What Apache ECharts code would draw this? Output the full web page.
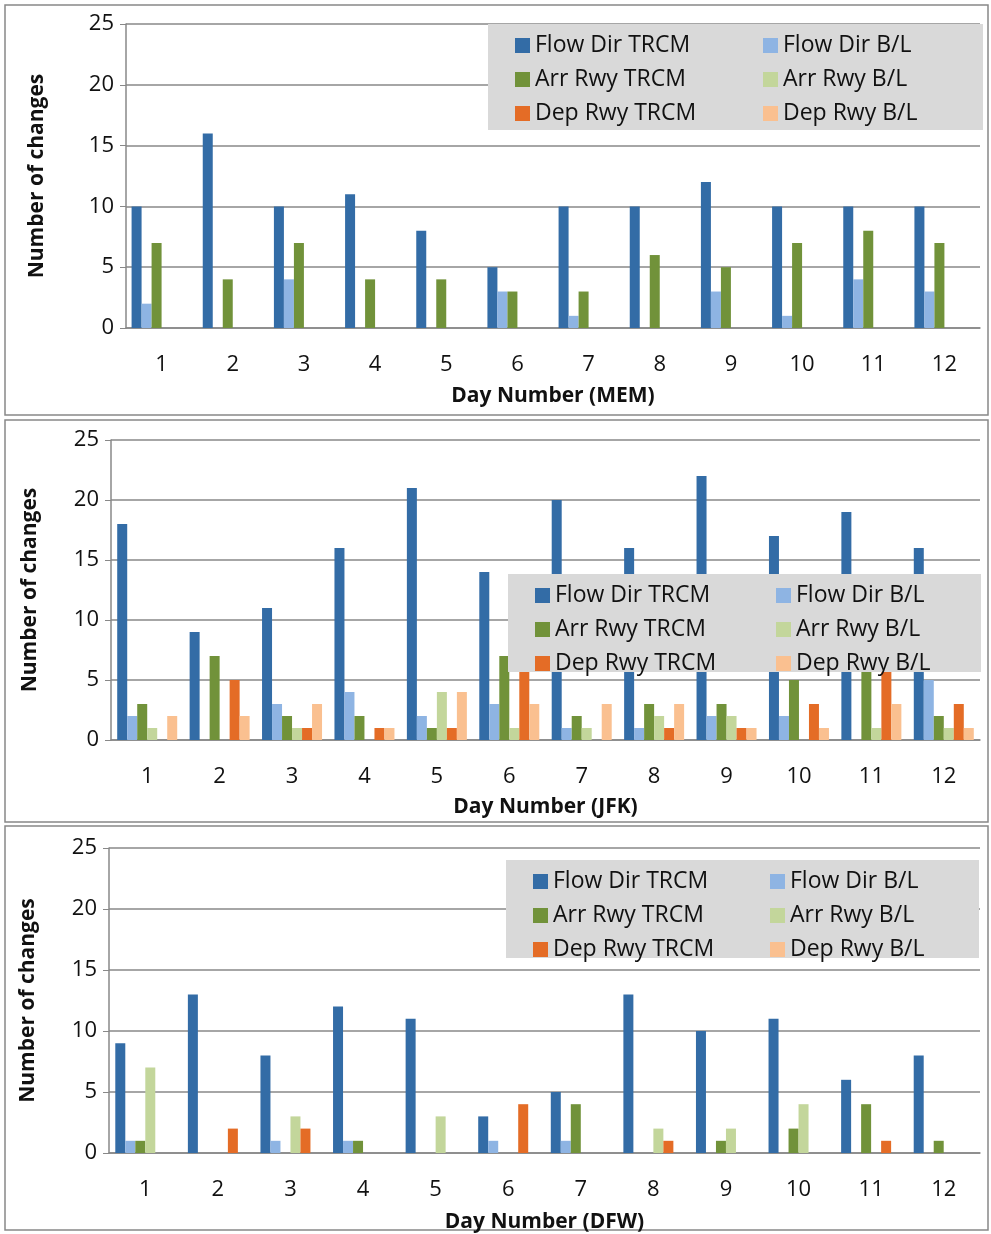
<!DOCTYPE html>
<html><head><meta charset="utf-8">
<script src="https://cdn.jsdelivr.net/npm/echarts@6/dist/echarts.min.js"></script>
<style>html,body{margin:0;padding:0;background:#fff}#c{width:991px;height:1234px}</style>
</head><body><div id="c"></div>
<script>
var days = ['1','2','3','4','5','6','7','8','9','10','11','12'];
var names = ['Flow Dir TRCM','Flow Dir B/L','Arr Rwy TRCM','Arr Rwy B/L','Dep Rwy TRCM','Dep Rwy B/L'];
var colors = ['#336ca6','#8eb4e3','#71923a','#c3d69b','#e46c26','#fac090'];
var yTicks = [0, 5, 10, 15, 20, 25];

// MEM
var memFlowT = [10,16,10,11,8,5,10,10,12,10,10,10];
var memFlowB = [2,0,4,0,0,3,1,0,3,1,4,3];
var memArrT  = [7,4,7,4,4,3,3,6,5,7,8,7];
var memArrB  = [0,0,0,0,0,0,0,0,0,0,0,0];
var memDepT  = [0,0,0,0,0,0,0,0,0,0,0,0];
var memDepB  = [0,0,0,0,0,0,0,0,0,0,0,0];
// JFK
var jfkFlowT = [18,9,11,16,21,14,20,16,22,17,19,16];
var jfkFlowB = [2,0,3,4,2,3,1,1,2,2,0,5];
var jfkArrT  = [3,7,2,2,1,7,2,3,3,5,7,2];
var jfkArrB  = [1,0,1,0,4,1,1,2,2,0,1,1];
var jfkDepT  = [0,5,1,1,1,6,0,1,1,3,6,3];
var jfkDepB  = [2,2,3,1,4,3,3,3,1,1,3,1];
// DFW
var dfwFlowT = [9,13,8,12,11,3,5,13,10,11,6,8];
var dfwFlowB = [1,0,1,1,0,1,1,0,0,0,0,0];
var dfwArrT  = [1,0,0,1,0,0,4,0,1,2,4,1];
var dfwArrB  = [7,0,3,0,3,0,0,2,2,4,0,0];
var dfwDepT  = [0,2,2,0,0,4,0,1,0,0,1,0];
var dfwDepB  = [0,0,0,0,0,0,0,0,0,0,0,0];

var panels = [
  {label:'Day Number (MEM)', data:[memFlowT,memFlowB,memArrT,memArrB,memDepT,memDepB],
   box:[5,5,983,410], grid:{left:126,right:11,top:24,height:304}, legend:[488,24,495,106], col2:248, yGap:78, xGap:58},
  {label:'Day Number (JFK)', data:[jfkFlowT,jfkFlowB,jfkArrT,jfkArrB,jfkDepT,jfkDepB],
   box:[5,420,983,402], grid:{left:111,right:11,top:440,height:300}, legend:[508,574,473,98], col2:241, yGap:70, xGap:57},
  {label:'Day Number (DFW)', data:[dfwFlowT,dfwFlowB,dfwArrT,dfwArrB,dfwDepT,dfwDepB],
   box:[5,826,983,404], grid:{left:109,right:11,top:848,height:305}, legend:[506,860,473,98], col2:237, yGap:70, xGap:59}
];

var font = 'Open Sans, Liberation Sans, sans-serif';
var grids=[], xAxes=[], yAxes=[], series=[], legends=[], graphics=[];
panels.forEach(function(p, i){
  grids.push(Object.assign({outerBoundsMode:'none', containLabel:false}, p.grid));
  graphics.push({type:'rect', shape:{x:p.box[0],y:p.box[1],width:p.box[2],height:p.box[3]},
    style:{fill:'none', stroke:'#888', lineWidth:1.5}, z:-1});
  graphics.push({type:'rect', shape:{x:p.legend[0],y:p.legend[1],width:p.legend[2],height:p.legend[3]},
    style:{fill:'#d9d9d9'}, z:10});
  xAxes.push({type:'category', gridIndex:i, data:days, name:p.label, nameLocation:'middle', nameGap:p.xGap,
    nameTextStyle:{fontFamily:font, fontWeight:'bold', fontSize:21, color:'#111'},
    axisLine:{lineStyle:{color:'#888', width:1.5}}, axisTick:{length:8, lineStyle:{color:'#888'}},
    axisLabel:{fontFamily:font, fontSize:22, color:'#111', margin:26}});
  yAxes.push({type:'value', gridIndex:i, min:yTicks[0], max:yTicks[yTicks.length-1], interval:5,
    name:'Number of changes', nameLocation:'middle', nameGap:p.yGap,
    nameTextStyle:{fontFamily:font, fontWeight:'bold', fontSize:21, color:'#111'},
    axisLine:{show:true, lineStyle:{color:'#888', width:1.5}}, axisTick:{show:true, length:6, lineStyle:{color:'#888'}},
    splitLine:{lineStyle:{color:'#888', width:1.5}},
    axisLabel:{fontFamily:font, fontSize:22, color:'#111', margin:12}});
  [[names[0],names[2],names[4]],[names[1],names[3],names[5]]].forEach(function(col, c){
    legends.push({data:col, orient:'vertical', left:p.legend[0]+22+c*p.col2, top:p.legend[1]+5,
      itemWidth:15, itemHeight:15, itemGap:11, icon:'rect', z:20,
      textStyle:{fontFamily:font, fontSize:23, color:'#111'}, selectedMode:false});
  });
  p.data.forEach(function(d, k){
    series.push({type:'bar', name:names[k], xAxisIndex:i, yAxisIndex:i, data:d,
      barWidth:10, barGap:'0%', itemStyle:{color:colors[k]}, z:2});
  });
});

var chart = echarts.init(document.getElementById('c'));
chart.setOption({
  animation:false,
  grid:grids, xAxis:xAxes, yAxis:yAxes, legend:legends, series:series,
  graphic:graphics
});
</script></body></html>
